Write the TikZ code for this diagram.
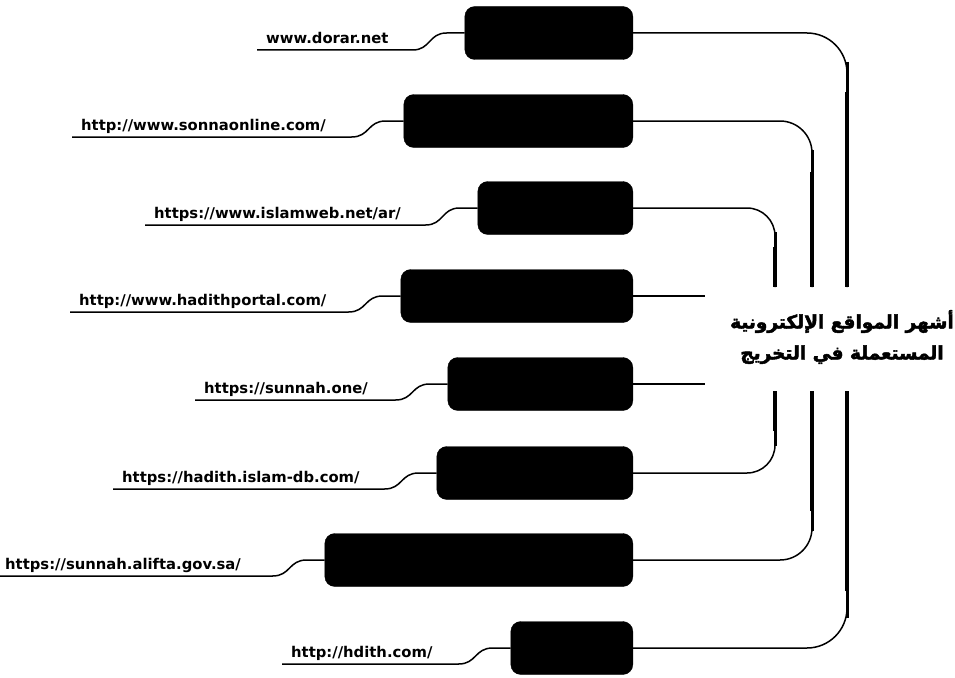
\documentclass[tikz,border=0pt]{standalone}
\usepackage{fontspec}
\setsansfont{DejaVu Sans}
\newfontfamily\arabicfont[Script=Arabic, FakeBold=2.5]{DejaVu Sans}
\TeXXeTstate=1
\usepackage{tikz}
\usetikzlibrary{arrows.meta,positioning,calc}
\definecolor{ink}{HTML}{000000}
\tikzset{
  sitebox/.style={
    rectangle, rounded corners=10pt, draw=ink, fill=ink,
    minimum width=#1, minimum height=53pt, anchor=east,
    inner sep=0pt
  },
  sitebox/.default=160pt,
  urlnode/.style={
    anchor=south west, font=\fontsize{14.8}{16}\selectfont\sffamily\bfseries,
    inner xsep=9pt, inner ysep=4pt, text depth=2.5pt
  },
  topicnode/.style={
    rectangle, minimum width=274pt, minimum height=104pt, align=center,
    font=\fontsize{18.5}{31}\selectfont\arabicfont\bfseries, inner sep=0pt
  },
  branch/.style={draw=ink, line width=1.5pt},
  trunk/.style={draw=ink, line width=4.5pt},
  midtrunk/.style={draw=ink, line width=3pt},
  underline/.style={draw=ink, line width=1.5pt},
}

\begin{document}
\begin{tikzpicture}[x=1pt, y=1pt]
    \useasboundingbox (0,0) rectangle (955,-677);
    % central topic
    \node[topicnode] (topic) at (842,-337)
      {\beginR أشهر المواقع الإلكترونية\endR\\ \beginR المستعملة في التخريج\endR};
    % trunk ends above and below the topic
    \coordinate (outA) at (847,-287);  \coordinate (outB) at (847,-391);
    \coordinate (midA) at (812,-287);  \coordinate (midB) at (812,-391);
    \coordinate (innA) at (775,-287);  \coordinate (innB) at (775,-391);

    % site boxes
    \node[sitebox=168pt] (dorar)   at (633,-33)  {};
    \node[sitebox=229pt] (sonna)   at (633,-121) {};
    \node[sitebox=155pt] (islamweb) at (633,-208) {};
    \node[sitebox=232pt] (portal)  at (633,-296) {};
    \node[sitebox=185pt] (sunnah)  at (633,-384) {};
    \node[sitebox=196pt] (islamdb) at (633,-473) {};
    \node[sitebox=308pt] (alifta)  at (633,-560) {};
    \node[sitebox=122pt] (hdith)   at (633,-648) {};

    % urls
    \node[urlnode] (udorar)    at (257,-50)  {www.dorar.net};
    \node[urlnode] (usonna)    at (72,-137)  {http://www.sonnaonline.com/};
    \node[urlnode] (uislamweb) at (145,-225) {https://www.islamweb.net/ar/};
    \node[urlnode] (uportal)   at (70,-312)  {http://www.hadithportal.com/};
    \node[urlnode] (usunnah)   at (195,-400) {https://sunnah.one/};
    \node[urlnode] (uislamdb)  at (113,-489) {https://hadith.islam-db.com/};
    \node[urlnode] (ualifta)   at (-4,-576)  {https://sunnah.alifta.gov.sa/};
    \node[urlnode] (uhdith)    at (282,-664) {http://hdith.com/};

    % underlines into the boxes
    \foreach \u/\b in {udorar/dorar, usonna/sonna, uislamweb/islamweb, uportal/portal,
                       usunnah/sunnah, uislamdb/islamdb, ualifta/alifta, uhdith/hdith}
      \draw[underline] (\u.south west) -- ([xshift=-52pt]\b.west |- \u.south)
        .. controls +(18,0) and +(-18,0) .. ([xshift=-18pt]\b.west) -- (\b.west);

    % branches to the topic
    \draw[branch, rounded corners=40pt] (dorar.east) -| (outA);
    \draw[branch, rounded corners=32pt] (sonna.east) -| (midA);
    \draw[branch, rounded corners=28pt] (islamweb.east) -| (innA);
    \draw[branch] (portal.east) -- (portal.east -| topic.west);
    \draw[branch] (sunnah.east) -- (sunnah.east -| topic.west);
    \draw[branch, rounded corners=28pt] (islamdb.east) -| (innB);
    \draw[branch, rounded corners=32pt] (alifta.east) -| (midB);
    \draw[branch, rounded corners=40pt] (hdith.east) -| (outB);

    % thicker trunk parts
    \draw[midtrunk] ($(outA)+(0,225)$) -- ($(outA)+(0,190)$);
    \draw[trunk] ($(outA)+(0,195)$) -- (outA);
    \draw[midtrunk] ($(midA)+(0,137)$) -- ($(midA)+(0,110)$);
    \draw[trunk] ($(midA)+(0,115)$) -- (midA);
    \draw[midtrunk] ($(innA)+(0,55)$) -- ($(innA)+(0,35)$);
    \draw[trunk] ($(innA)+(0,40)$) -- (innA);
    \draw[midtrunk] ($(innB)-(0,55)$) -- ($(innB)-(0,35)$);
    \draw[trunk] ($(innB)-(0,40)$) -- (innB);
    \draw[midtrunk] ($(midB)-(0,140)$) -- ($(midB)-(0,115)$);
    \draw[trunk] ($(midB)-(0,120)$) -- (midB);
    \draw[midtrunk] ($(outB)-(0,227)$) -- ($(outB)-(0,195)$);
    \draw[trunk] ($(outB)-(0,200)$) -- (outB);
\end{tikzpicture}
\end{document}
